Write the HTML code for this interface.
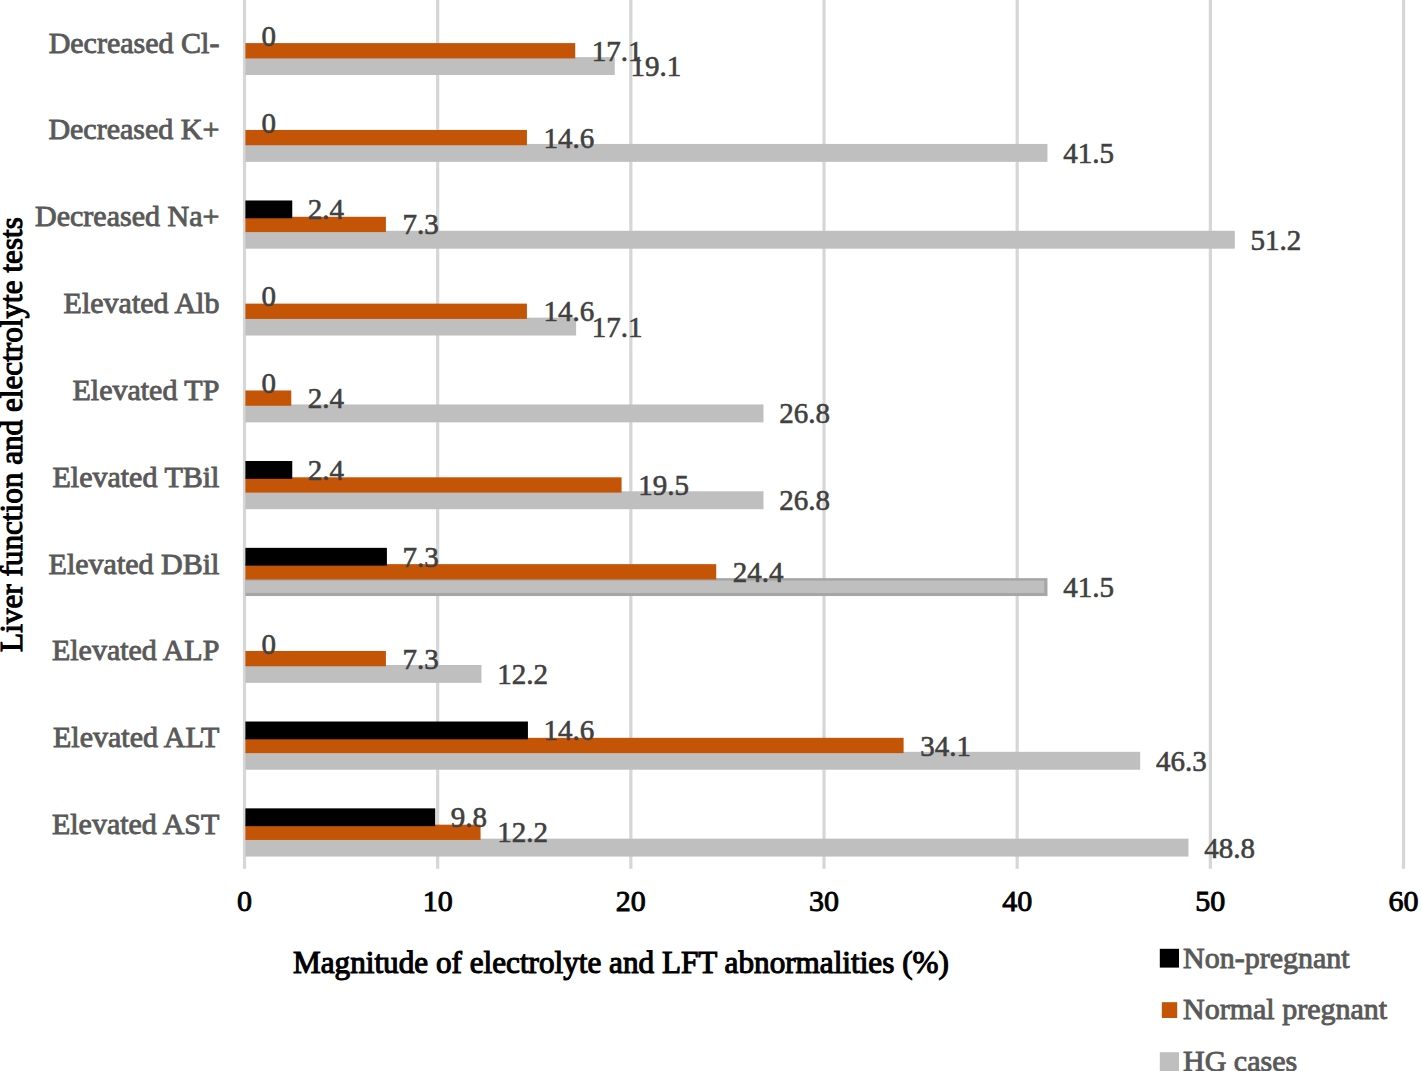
<!DOCTYPE html>
<html><head><meta charset="utf-8"><title>Chart</title><style>
html,body{margin:0;padding:0;background:#fff;overflow:hidden;width:1421px;height:1071px}
text{font-family:"Liberation Serif",serif}
.c{font-size:30px;fill:#595959;stroke:#595959;stroke-width:0.9px}
.v{font-size:29px;fill:#404040;stroke:#404040;stroke-width:0.6px}
.t{font-size:30px;fill:#000;stroke:#000;stroke-width:0.9px}
.a{font-size:31.2px;fill:#000;stroke:#000;stroke-width:1.1px}
</style></head><body>
<svg width="1421" height="1071" viewBox="0 0 1421 1071" style="display:block">
<rect x="0" y="0" width="1421" height="1071" fill="#ffffff"/>
<rect x="242.90" y="-2" width="3.2" height="870.80" fill="#D6D6D6"/>
<rect x="436.07" y="-2" width="3.2" height="870.80" fill="#D6D6D6"/>
<rect x="629.24" y="-2" width="3.2" height="870.80" fill="#D6D6D6"/>
<rect x="822.41" y="-2" width="3.2" height="870.80" fill="#D6D6D6"/>
<rect x="1015.58" y="-2" width="3.2" height="870.80" fill="#D6D6D6"/>
<rect x="1208.75" y="-2" width="3.2" height="870.80" fill="#D6D6D6"/>
<rect x="1401.92" y="-2" width="3.2" height="870.80" fill="#D6D6D6"/>
<rect x="245.40" y="57.10" width="369.35" height="17.90" fill="#BFBFBF"/>
<rect x="245.40" y="43.10" width="329.82" height="15.30" fill="#C45406"/>
<rect x="245.40" y="143.94" width="802.06" height="17.90" fill="#BFBFBF"/>
<rect x="245.40" y="129.94" width="281.53" height="15.30" fill="#C45406"/>
<rect x="245.40" y="230.78" width="989.43" height="17.90" fill="#BFBFBF"/>
<rect x="245.40" y="216.78" width="140.51" height="15.30" fill="#C45406"/>
<rect x="245.40" y="200.48" width="46.86" height="17.80" fill="#000000"/>
<rect x="245.40" y="317.62" width="330.72" height="17.90" fill="#BFBFBF"/>
<rect x="245.40" y="303.62" width="281.53" height="15.30" fill="#C45406"/>
<rect x="245.40" y="404.46" width="518.10" height="17.90" fill="#BFBFBF"/>
<rect x="245.40" y="390.46" width="45.86" height="15.30" fill="#C45406"/>
<rect x="245.40" y="491.30" width="518.10" height="17.90" fill="#BFBFBF"/>
<rect x="245.40" y="477.30" width="376.18" height="15.30" fill="#C45406"/>
<rect x="245.40" y="461.00" width="46.86" height="17.80" fill="#000000"/>
<rect x="245.40" y="578.14" width="802.06" height="17.90" fill="#A6A6A6"/>
<rect x="245.40" y="580.64" width="798.86" height="12.30" fill="#BFBFBF"/>
<rect x="245.40" y="564.14" width="470.83" height="15.30" fill="#C45406"/>
<rect x="245.40" y="547.84" width="141.51" height="17.80" fill="#000000"/>
<rect x="245.40" y="664.98" width="236.07" height="17.90" fill="#BFBFBF"/>
<rect x="245.40" y="650.98" width="140.51" height="15.30" fill="#C45406"/>
<rect x="245.40" y="751.82" width="894.78" height="17.90" fill="#BFBFBF"/>
<rect x="245.40" y="737.82" width="658.21" height="15.30" fill="#C45406"/>
<rect x="245.40" y="721.52" width="282.53" height="17.80" fill="#000000"/>
<rect x="245.40" y="838.66" width="943.07" height="17.90" fill="#BFBFBF"/>
<rect x="245.40" y="824.66" width="235.17" height="15.30" fill="#C45406"/>
<rect x="245.40" y="808.36" width="189.81" height="17.80" fill="#000000"/>
<text x="261.50" y="45.70" class="v">0</text>
<text x="591.82" y="60.80" class="v">17.1</text>
<text x="630.45" y="76.05" class="v">19.1</text>
<text x="261.50" y="132.54" class="v">0</text>
<text x="543.53" y="147.64" class="v">14.6</text>
<text x="1063.16" y="162.89" class="v">41.5</text>
<text x="307.86" y="219.38" class="v">2.4</text>
<text x="402.51" y="234.48" class="v">7.3</text>
<text x="1250.53" y="249.73" class="v">51.2</text>
<text x="261.50" y="306.22" class="v">0</text>
<text x="543.53" y="321.32" class="v">14.6</text>
<text x="591.82" y="336.57" class="v">17.1</text>
<text x="261.50" y="393.06" class="v">0</text>
<text x="307.86" y="408.16" class="v">2.4</text>
<text x="779.20" y="423.41" class="v">26.8</text>
<text x="307.86" y="479.90" class="v">2.4</text>
<text x="638.18" y="495.00" class="v">19.5</text>
<text x="779.20" y="510.25" class="v">26.8</text>
<text x="402.51" y="566.74" class="v">7.3</text>
<text x="732.83" y="581.84" class="v">24.4</text>
<text x="1063.16" y="597.09" class="v">41.5</text>
<text x="261.50" y="653.58" class="v">0</text>
<text x="402.51" y="668.68" class="v">7.3</text>
<text x="497.17" y="683.93" class="v">12.2</text>
<text x="543.53" y="740.42" class="v">14.6</text>
<text x="920.21" y="755.52" class="v">34.1</text>
<text x="1155.88" y="770.77" class="v">46.3</text>
<text x="450.81" y="827.26" class="v">9.8</text>
<text x="497.17" y="842.36" class="v">12.2</text>
<text x="1204.17" y="857.61" class="v">48.8</text>
<text x="219.4" y="52.50" class="c" text-anchor="end">Decreased Cl-</text>
<text x="219.4" y="139.34" class="c" text-anchor="end">Decreased K+</text>
<text x="219.4" y="226.18" class="c" text-anchor="end">Decreased Na+</text>
<text x="219.4" y="313.02" class="c" text-anchor="end">Elevated Alb</text>
<text x="219.4" y="399.86" class="c" text-anchor="end">Elevated TP</text>
<text x="219.4" y="486.70" class="c" text-anchor="end">Elevated TBil</text>
<text x="219.4" y="573.54" class="c" text-anchor="end">Elevated DBil</text>
<text x="219.4" y="660.38" class="c" text-anchor="end">Elevated ALP</text>
<text x="219.4" y="747.22" class="c" text-anchor="end">Elevated ALT</text>
<text x="219.4" y="834.06" class="c" text-anchor="end">Elevated AST</text>
<text x="244.50" y="911.4" class="t" text-anchor="middle">0</text>
<text x="437.67" y="911.4" class="t" text-anchor="middle">10</text>
<text x="630.84" y="911.4" class="t" text-anchor="middle">20</text>
<text x="824.01" y="911.4" class="t" text-anchor="middle">30</text>
<text x="1017.18" y="911.4" class="t" text-anchor="middle">40</text>
<text x="1210.35" y="911.4" class="t" text-anchor="middle">50</text>
<text x="1403.52" y="911.4" class="t" text-anchor="middle">60</text>
<text x="293" y="973.0" class="a">Magnitude of electrolyte and LFT abnormalities (%)</text>
<text transform="translate(22.1 651.9) rotate(-90)" x="0" y="0" class="a">Liver function and electrolyte tests</text>
<rect x="1159.8" y="948.8" width="19.2" height="18.8" fill="#000000"/>
<rect x="1161.8" y="1002.2" width="15.4" height="15.8" fill="#C45406"/>
<rect x="1159.8" y="1052.2" width="19.2" height="20" fill="#BFBFBF"/>
<text x="1183" y="967.8" class="c">Non-pregnant</text>
<text x="1183" y="1019.4" class="c">Normal pregnant</text>
<text x="1183" y="1070.9" class="c">HG cases</text>
</svg>
</body></html>
